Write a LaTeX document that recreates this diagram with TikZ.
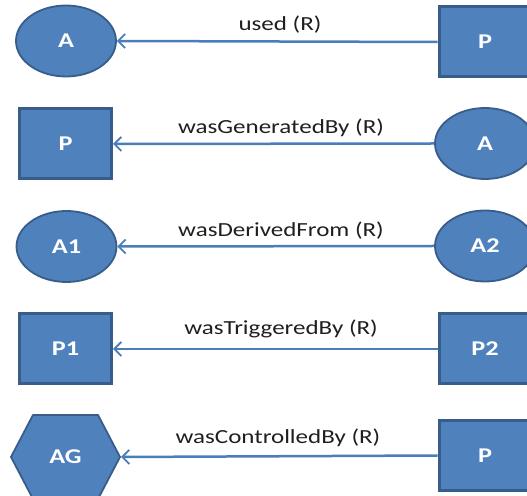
\documentclass[tikz,border=0pt]{standalone}
\usepackage{fontspec}
\setmainfont{Carlito}
\newfontfamily\widefont[FakeStretch=1.25]{Carlito}
\usetikzlibrary{arrows.meta,shapes.geometric}
\definecolor{boxfill}{HTML}{4F81BD}
\definecolor{boxline}{HTML}{385D8A}
\definecolor{linkblue}{HTML}{4A7EBB}
\definecolor{labelink}{HTML}{1F1F1F}
\begin{document}
\begin{tikzpicture}[x=1pt,y=1pt,
  shapetext/.style={text=white,font=\widefont\bfseries\fontsize{21}{24}\selectfont},
  procbox/.style={shapetext,rectangle,draw=boxline,fill=boxfill,line width=3pt,
    minimum width=92pt,minimum height=70pt,inner sep=0pt},
  artoval/.style={shapetext,ellipse,draw=boxline,fill=boxfill,line width=1.8pt,
    minimum width=100pt,minimum height=71pt,inner sep=0pt},
  hexline/.style={draw=boxline,fill=boxfill,line width=1.8pt,line join=round},
  relation/.style={draw=linkblue,line width=2.5pt,
    -{Straight Barb[length=7pt,width=14pt,line width=1.8pt]}},
  rellabel/.style={text=labelink,font=\widefont\fontsize{20}{24}\selectfont,inner sep=0pt}]
\useasboundingbox (0,0) rectangle (527,495);

% row 1: used
\node[artoval] (a1l) at (66,454) {A};
\node[procbox] (p1r) at (485,453) {P};
\draw[relation] (p1r.west) -- (a1l.east);
\node[rellabel] (l1) at (280,470) {used (R)};

% row 2: wasGeneratedBy
\node[procbox] (p2l) at (65.5,351) {P};
\node[artoval] (a2r) at (485,351.5) {A};
\draw[relation] (a2r.west) -- (p2l.east);
\node[rellabel] (l2) at (281,367) {wasGeneratedBy (R)};

% row 3: wasDerivedFrom
\node[artoval] (a3l) at (66.5,248.5) {A1};
\node[artoval] (a3r) at (485,249) {A2};
\draw[relation] (a3r.west) -- (a3l.east);
\node[rellabel] (l3) at (281,264) {wasDerivedFrom (R)};

% row 4: wasTriggeredBy
\node[procbox] (p4l) at (65.5,146) {P1};
\node[procbox] (p4r) at (485,146) {P2};
\draw[relation] (p4r.west) -- (p4l.east);
\node[rellabel] (l4) at (281,166) {wasTriggeredBy (R)};

% row 5: wasControlledBy, agent drawn as a hexagon
\draw[hexline] (11,38) -- (33,80) -- (98,80) -- (120,38) -- (98,-4) -- (33,-4) -- cycle;
\coordinate (agE) at (121,38);
\node[shapetext] (ag) at (65.5,38) {AG};
\node[procbox] (p5r) at (485,39.5) {P};
\draw[relation] (p5r.west) -- (agE);
\node[rellabel] (l5) at (278,57) {wasControlledBy (R)};
\end{tikzpicture}
\end{document}
